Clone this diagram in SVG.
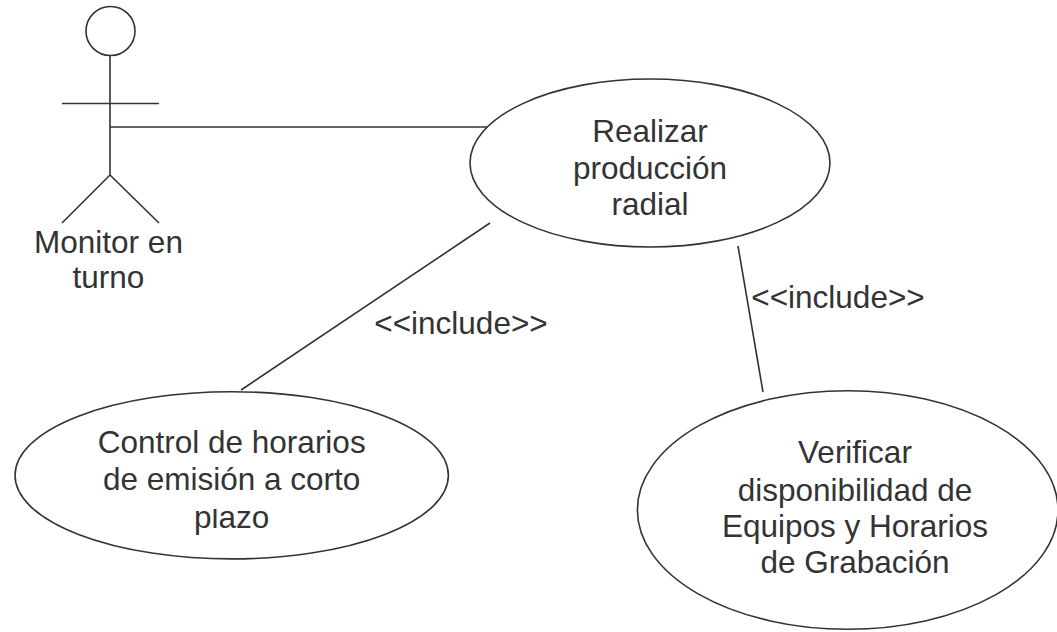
<svg xmlns="http://www.w3.org/2000/svg" width="1057" height="632" viewBox="0 0 1057 632">
<style>
.s{fill:none;stroke:#333;stroke-width:1.6}
.e{fill:#fff;stroke:#333;stroke-width:1.6}
text{font-family:"Liberation Sans",Arial,sans-serif;font-size:31.5px;fill:#333;text-anchor:middle}
</style>
<defs>
<clipPath id="cPlazo"><rect x="0" y="509" width="460" height="60"/></clipPath>
<clipPath id="cInc2"><rect x="740" y="270" width="220" height="39"/></clipPath>
<clipPath id="cInc1"><rect x="360" y="300" width="220" height="35"/></clipPath>
</defs>
<rect width="1057" height="632" fill="#fff"/>
<g id="connectors">
<line class="s" x1="110" y1="127" x2="496" y2="127"/>
<line class="s" x1="490" y1="223" x2="241" y2="390"/>
<line class="s" x1="738" y1="246" x2="763" y2="392"/>
<text x="461" y="334" clip-path="url(#cInc1)">&lt;&lt;include&gt;&gt;</text>
<text x="838" y="308" clip-path="url(#cInc2)">&lt;&lt;include&gt;&gt;</text>
</g>
<g id="actor">
<circle class="s" cx="110.5" cy="31" r="24.5"/>
<line class="s" x1="110" y1="55.5" x2="110" y2="175"/>
<line class="s" x1="62" y1="103.5" x2="159" y2="103.5"/>
<line class="s" x1="110" y1="175" x2="62" y2="223"/>
<line class="s" x1="110" y1="175" x2="159" y2="223"/>
<text x="108.5" y="253">Monitor en</text>
<text x="108.5" y="288">turno</text>
</g>
<g id="uc-realizar">
<ellipse class="e" cx="650" cy="163" rx="180" ry="84"/>
<text x="650" y="142">Realizar</text>
<text x="650" y="178.5">producción</text>
<text x="650" y="215">radial</text>
</g>
<g id="uc-control">
<ellipse class="e" cx="231.7" cy="475.3" rx="216.7" ry="83.6"/>
<text x="231.7" y="453">Control de horarios</text>
<text x="231.7" y="490">de emisión a corto</text>
<text x="231.7" y="528" clip-path="url(#cPlazo)">plazo</text>
</g>
<g id="uc-verificar">
<ellipse class="e" cx="847.7" cy="510" rx="210.3" ry="119.3"/>
<text x="855" y="463">Verificar</text>
<text x="855" y="500.5">disponibilidad de</text>
<text x="855" y="537">Equipos y Horarios</text>
<text x="855" y="573">de Grabación</text>
</g>
</svg>
